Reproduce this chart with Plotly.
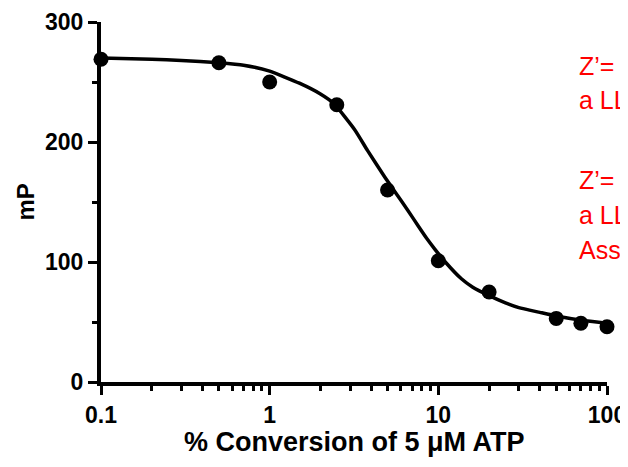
"""
Dose-response style plot: mP vs % conversion of ATP
"""

import plotly.graph_objects as go

# measured points
conversion_pct = [0.1, 0.5, 1, 2.5, 5, 10, 20, 50, 70, 100]
mp_values = [269, 266, 250, 231, 160, 101, 75, 53, 49, 46]

# fitted curve
fit_x = [0.1, 0.2, 0.3, 0.5, 0.7, 1, 1.5, 2, 2.4, 3.2, 3.8, 4.8, 5.5, 6.6,
         7.6, 8.5, 9.5, 11, 13.7, 16, 20, 25, 30, 40, 50, 74, 100]
fit_y = [270, 269, 268, 266, 264, 259, 249, 240, 232, 210, 193, 171, 159, 143,
         130, 120, 111, 100, 86, 79, 72, 66, 62, 58, 55, 51, 49]

x_ticks = [0.1, 1, 10, 100]
x_tick_labels = ["0.1", "1", "10", "100"]
y_ticks = [0, 100, 200, 300]

note_lines = ["Z’=", "a LL", "Z’=", "a LL", "Ass"]
note_y = [0.878, 0.783, 0.561, 0.464, 0.367]

FONT = "Liberation Sans, Arial, sans-serif"


def create_conversion_chart() -> go.Figure:
    fig = go.Figure()

    fig.add_trace(go.Scatter(
        x=fit_x,
        y=fit_y,
        mode='lines',
        line=dict(color='black', width=3.5, shape='spline', smoothing=0.5),
        cliponaxis=False,
        showlegend=False
    ))

    fig.add_trace(go.Scatter(
        x=conversion_pct,
        y=mp_values,
        mode='markers',
        marker=dict(color='black', size=15),
        cliponaxis=False,
        showlegend=False
    ))

    for text, yy in zip(note_lines, note_y):
        fig.add_annotation(
            text=text, xref='paper', yref='paper', x=0.941, y=yy,
            xanchor='left', yanchor='middle', showarrow=False,
            font=dict(family=FONT, size=25, color='#ff0000')
        )

    # axis titles placed as annotations for exact position
    fig.add_annotation(
        text='<b>% Conversion of 5 μM ATP</b>', xref='paper', yref='paper',
        x=0.5, y=-0.167, xanchor='center', yanchor='middle', showarrow=False,
        font=dict(family=FONT, size=27, color='black')
    )
    fig.add_annotation(
        text='<b>mP</b>', xref='paper', yref='paper',
        x=-0.151, y=0.5, xanchor='center', yanchor='middle', showarrow=False,
        textangle=-90, font=dict(family=FONT, size=24, color='black')
    )

    axis_common = dict(
        ticks='outside',
        ticklen=9,
        tickwidth=3,
        tickcolor='black',
        showline=True,
        linewidth=4,
        linecolor='black',
        showgrid=False,
        zeroline=False,
        automargin=False,
        tickfont=dict(family=FONT, size=23, color='black', weight='bold'),
    )

    # page body adds an 8px offset, margins account for it
    fig.update_layout(
        width=628,
        height=467,
        margin=dict(l=93, r=29, t=14, b=93),
        plot_bgcolor='white',
        paper_bgcolor='white',
        font=dict(family=FONT, color='black'),
        xaxis=dict(
            type='log',
            range=[-1, 2],
            tickvals=x_ticks,
            ticktext=x_tick_labels,
            minor=dict(ticks='outside', ticklen=5, tickwidth=3,
                       tickcolor='black', dtick='D1', showgrid=False),
            **axis_common
        ),
        yaxis=dict(
            range=[0, 300],
            tickvals=y_ticks,
            minor=dict(ticks='outside', ticklen=5, tickwidth=3,
                       tickcolor='black', dtick=50, showgrid=False),
            **axis_common
        )
    )

    return fig


fig = create_conversion_chart()
fig.write_html("out.html")
